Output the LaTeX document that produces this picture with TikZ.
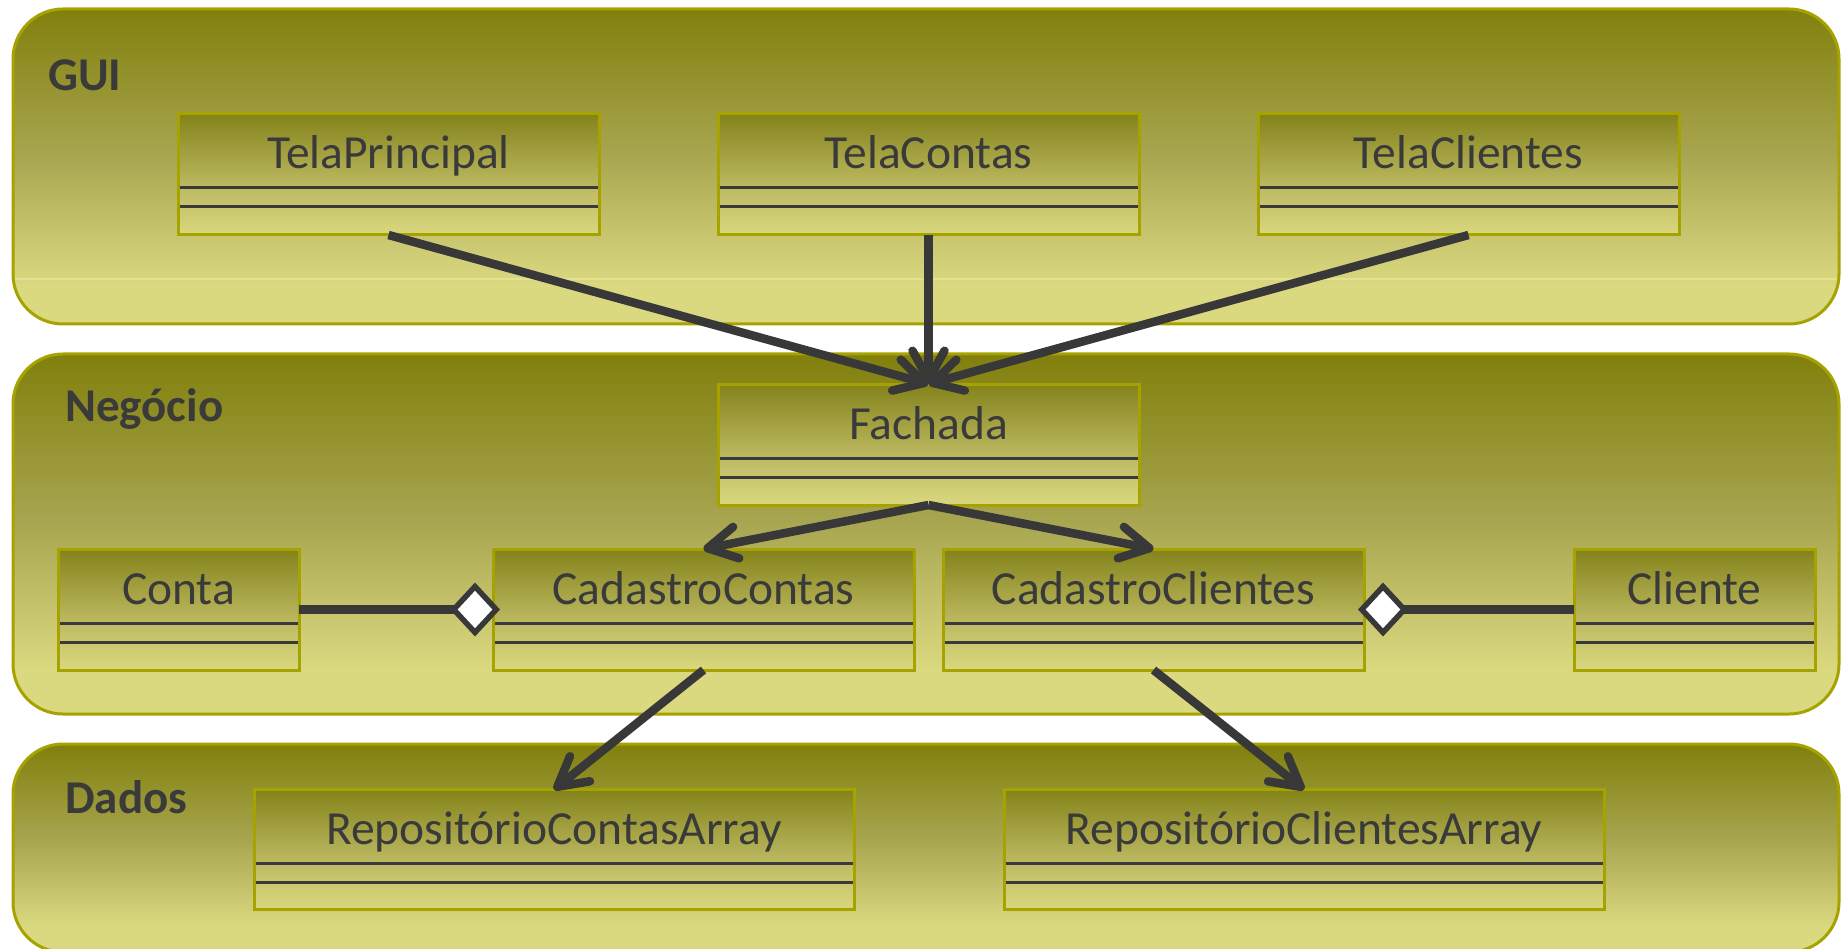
\documentclass[tikz,border=0pt]{standalone}
\usepackage{fontspec}
\setmainfont{Carlito}
\usetikzlibrary{arrows.meta,calc}
\definecolor{ptop}{HTML}{81800C}
\definecolor{pmid}{HTML}{A8A550}
\definecolor{pbot}{HTML}{DBD980}
\definecolor{pborder}{HTML}{A6A300}
\definecolor{btop}{HTML}{84831A}
\definecolor{bdiv}{HTML}{BEBB64}
\definecolor{bbot}{HTML}{DAD87E}
\definecolor{cline}{HTML}{383838}
\definecolor{ctext}{HTML}{3A3A3A}
\definecolor{glint}{HTML}{E3E194}
\pgfdeclareverticalshading{panelshade}{100bp}{color(0bp)=(pbot); color(31bp)=(pbot); color(52bp)=(pmid); color(75bp)=(ptop); color(100bp)=(ptop)}
\pgfdeclareverticalshading{boxshade}{100bp}{color(0bp)=(bbot); color(25bp)=(bbot); color(44bp)=(bdiv); color(75bp)=(btop); color(100bp)=(btop)}
\tikzset{
  panel/.style={draw=pborder, line width=3pt, rounded corners=50pt, shading=panelshade},
  cls/.style={draw=pborder, line width=3pt, shading=boxshade, inner sep=0pt, outer sep=0pt},
  cname/.style={font=\fontsize{47.5}{55}\selectfont, text=ctext, inner sep=0pt},
  layerlabel/.style={font=\fontsize{47}{55}\selectfont\bfseries, text=ctext, inner sep=0pt},
  divider/.style={draw=ctext, line width=3pt},
  conn/.style={draw=cline, line width=8.5pt, -{Straight Barb[length=29pt,width=32pt,round]}},
  agg/.style={draw=cline, line width=8.5pt, -{Diamond[length=50pt,width=54pt,fill=white,line width=5.5pt]}},
}
\newcommand\umlclass[6]{%
  \node[cls, minimum width=#4pt, minimum height=#5pt] (#1) at (#2,#3) {};
  \node[cname, anchor=base] (#1-t) at ($(#1.north)+(0,55)$) {#6};
  \draw[divider] ($(#1.north west)+(1.5,74)$) -- ($(#1.north east)+(-1.5,74)$);
  \draw[divider] ($(#1.north west)+(1.5,93)$) -- ($(#1.north east)+(-1.5,93)$);
}
\begin{document}
\begin{tikzpicture}[x=1pt,y=-1pt]
\useasboundingbox (0,0) rectangle (1841,949);
\fill[white] (0,0) rectangle (1841,949);
\clip (0,0) rectangle (1841,949);
% layers
\path[panel] (13,9) rectangle (1839,324);
\draw[glint, line width=1.2pt] (15,279) -- (1837,279);
\path[panel] (13,354) rectangle (1839,714);
\path[panel] (13,744) rectangle (1839,952);
\node[layerlabel, anchor=base west] (lgui) at (48,91) {GUI};
\node[layerlabel, anchor=base west] (lneg) at (65,421) {Negócio};
\node[layerlabel, anchor=base west] (ldad) at (65,813) {Dados};
% classes
\umlclass{tp}{388.5}{174.5}{421}{121}{TelaPrincipal}
\umlclass{tc}{928.5}{174.5}{421}{121}{TelaContas}
\umlclass{tcl}{1468.5}{174.5}{421}{121}{TelaClientes}
\umlclass{fa}{928.5}{444.5}{421}{121}{Fachada}
\umlclass{conta}{178.5}{609.5}{241}{121}{Conta}
\umlclass{cc}{703.5}{609.5}{421}{121}{CadastroContas}
\umlclass{ccl}{1153.5}{609.5}{421}{121}{CadastroClientes}
\umlclass{cli}{1694.5}{609.5}{241}{121}{Cliente}
\umlclass{rca}{554}{849.5}{600}{120}{RepositórioContasArray}
\umlclass{rcl}{1304}{849.5}{600}{120}{RepositórioClientesArray}
% connectors
\draw[conn] (tp.south) -- (fa.north);
\draw[conn] (tc.south) -- (fa.north);
\draw[conn] (tcl.south) -- (fa.north);
\draw[conn] (fa.south) -- (cc.north);
\draw[conn] (fa.south) -- (ccl.north);
\draw[conn] (cc.south) -- (rca.north);
\draw[conn] (ccl.south) -- (rcl.north);
\draw[agg, shorten >=-7pt] (conta.east) -- (cc.west);
\draw[agg, shorten >=-6pt] (cli.west) -- (ccl.east);
\end{tikzpicture}
\end{document}
